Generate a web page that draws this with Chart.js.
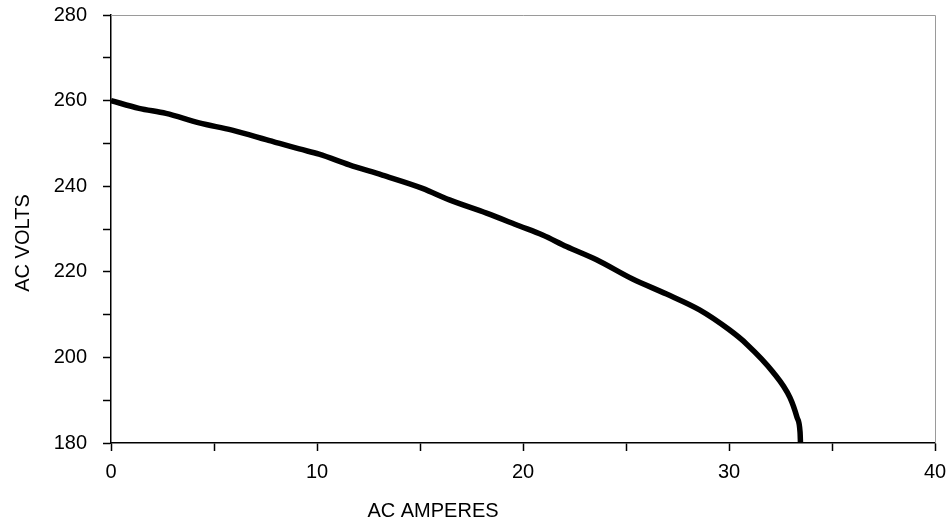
<!DOCTYPE html>
<html>
<head>
<meta charset="utf-8">
<script src="https://cdn.jsdelivr.net/npm/chart.js@4.4.1/dist/chart.umd.min.js"></script>
<style>
  html, body { margin: 0; padding: 0; background: #fff; }
  #wrap { width: 946px; height: 525px; }
</style>
</head>
<body>
<div id="wrap"><canvas id="vaChart"></canvas></div>
<script>
// load curve
var amps  = [0, 1.36, 2.67, 4.28, 5.88, 7.53, 9.14, 10.1, 11.57, 13.17, 15.12, 16.43, 18.23, 19.83, 20.95, 22.11, 23.57, 25.32, 26.97, 28.57, 30.0, 30.86, 32.13, 32.96, 33.3, 33.45, 33.47];
var volts = [260, 258.2, 257.0, 254.8, 253.1, 250.9, 248.7, 247.5, 245.0, 242.6, 239.5, 236.8, 233.7, 230.7, 228.6, 225.9, 222.8, 218.3, 214.8, 211.1, 206.5, 203.1, 196.6, 190.6, 186.0, 182.5, 180];
var xTickLabels = [0, 10, 20, 30, 40];
var yTickLabels = [180, 200, 220, 240, 260, 280];
var xTitle = "AC AMPERES";
var yTitle = "AC VOLTS";

var points = [];
for (var i = 0; i < amps.length; i++) {
    points.push({x: amps[i], y: volts[i]});
}

var fontFamily = "'Liberation Sans', Arial, Helvetica, sans-serif";

// gray frame on top and right, and axis titles
var framePlugin = {
    id: "frame",
    afterDraw: function(chart) {
        var ctx = chart.ctx;
        var a = chart.chartArea;
        ctx.save();
        ctx.strokeStyle = "#9a9a9a";
        ctx.lineWidth = 1;
        ctx.beginPath();
        ctx.moveTo(a.left, a.top + 0.5);
        ctx.lineTo(a.right + 0.5, a.top + 0.5);
        ctx.lineTo(a.right + 0.5, a.bottom);
        ctx.stroke();

        ctx.fillStyle = "#000";
        ctx.font = "20px " + fontFamily;
        ctx.textAlign = "center";
        ctx.textBaseline = "middle";
        ctx.fillText(xTitle, 433, 511);
        ctx.translate(23.5, 243);
        ctx.rotate(-Math.PI / 2);
        ctx.fillText(yTitle, 0, 0);
        ctx.restore();
    }
};

var chart = new Chart(document.getElementById("vaChart"), {
    type: "scatter",
    data: {
        datasets: [{
            data: points,
            showLine: true,
            borderColor: "#000",
            borderWidth: 5.5,
            pointRadius: 0,
            cubicInterpolationMode: "monotone",
            fill: false
        }]
    },
    options: {
        responsive: true,
        maintainAspectRatio: false,
        animation: false,
        layout: { padding: 0 },
        plugins: { legend: { display: false }, tooltip: { enabled: false } },
        scales: {
            x: {
                type: "linear",
                min: 0,
                max: 40,
                afterFit: function(s) {
                    s.height = 82;
                    s.paddingRight = 11;
                    s.paddingLeft = 0;
                },
                border: { color: "#000", width: 1.5 },
                grid: { drawOnChartArea: false, color: "#000", tickLength: 8, tickWidth: 1.5 },
                ticks: {
                    stepSize: 5,
                    color: "#000",
                    padding: 9,
                    maxRotation: 0,
                    font: { family: fontFamily, size: 20 },
                    callback: function(v) { return xTickLabels.indexOf(v) >= 0 ? String(v) : ""; }
                }
            },
            y: {
                type: "linear",
                min: 180,
                max: 280,
                afterFit: function(s) {
                    s.width = 111;
                    s.paddingTop = 15;
                    s.paddingBottom = 0;
                },
                border: { color: "#000", width: 1.5 },
                grid: { drawOnChartArea: false, color: "#000", tickLength: 8, tickWidth: 1.5 },
                ticks: {
                    stepSize: 5,
                    color: "#000",
                    padding: 16,
                    font: { family: fontFamily, size: 20 },
                    callback: function(v) { return yTickLabels.indexOf(v) >= 0 ? String(v) : ""; }
                }
            }
        }
    },
    plugins: [framePlugin]
});
</script>
</body>
</html>
